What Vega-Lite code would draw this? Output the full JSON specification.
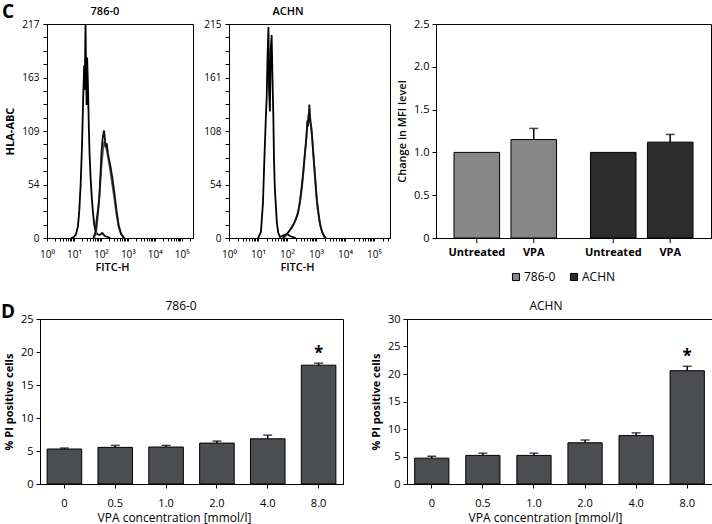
{
  "$schema": "https://vega.github.io/schema/vega-lite/v6.json",
  "padding": {"left": 0, "top": 3, "right": 0, "bottom": 0},
  "config": {
    "font": "Open Sans",
    "view": {"stroke": "black", "strokeWidth": 1},
    "axis": {"domainColor": "black", "tickColor": "black", "labelColor": "black", "titleColor": "black", "grid": false, "labelFlush": false, "labelOverlap": false, "domainWidth": 1, "tickWidth": 1, "labelFontSize": 11, "titleFontSize": 11, "titleFontWeight": "bold"},
    "title": {"color": "black"},
    "legend": {"labelColor": "black"}
  },
  "resolve": {"scale": {"color": "independent"}, "legend": {"color": "independent"}},
  "datasets": {
    "hist": [
      {"cell": "786-0", "series": "Isotype", "fitc": 7.9, "count": 0},
      {"cell": "786-0", "series": "Isotype", "fitc": 10, "count": 1},
      {"cell": "786-0", "series": "Isotype", "fitc": 12, "count": 4},
      {"cell": "786-0", "series": "Isotype", "fitc": 14.1, "count": 12},
      {"cell": "786-0", "series": "Isotype", "fitc": 15.8, "count": 28},
      {"cell": "786-0", "series": "Isotype", "fitc": 17.8, "count": 55},
      {"cell": "786-0", "series": "Isotype", "fitc": 20, "count": 95},
      {"cell": "786-0", "series": "Isotype", "fitc": 21.9, "count": 140},
      {"cell": "786-0", "series": "Isotype", "fitc": 24, "count": 175},
      {"cell": "786-0", "series": "Isotype", "fitc": 25.1, "count": 150},
      {"cell": "786-0", "series": "Isotype", "fitc": 26.9, "count": 217},
      {"cell": "786-0", "series": "Isotype", "fitc": 28.2, "count": 170},
      {"cell": "786-0", "series": "Isotype", "fitc": 29.5, "count": 135},
      {"cell": "786-0", "series": "Isotype", "fitc": 30.9, "count": 183},
      {"cell": "786-0", "series": "Isotype", "fitc": 33.1, "count": 155},
      {"cell": "786-0", "series": "Isotype", "fitc": 35.5, "count": 115},
      {"cell": "786-0", "series": "Isotype", "fitc": 38, "count": 85},
      {"cell": "786-0", "series": "Isotype", "fitc": 41.7, "count": 60},
      {"cell": "786-0", "series": "Isotype", "fitc": 45.7, "count": 42},
      {"cell": "786-0", "series": "Isotype", "fitc": 50.1, "count": 28},
      {"cell": "786-0", "series": "Isotype", "fitc": 56.2, "count": 14},
      {"cell": "786-0", "series": "Isotype", "fitc": 63.1, "count": 7},
      {"cell": "786-0", "series": "Isotype", "fitc": 72.4, "count": 4},
      {"cell": "786-0", "series": "Isotype", "fitc": 89.1, "count": 3},
      {"cell": "786-0", "series": "Isotype", "fitc": 112, "count": 5},
      {"cell": "786-0", "series": "Isotype", "fitc": 141, "count": 2},
      {"cell": "786-0", "series": "Isotype", "fitc": 178, "count": 1},
      {"cell": "786-0", "series": "Isotype", "fitc": 224, "count": 0},
      {"cell": "786-0", "series": "Untreated", "fitc": 55, "count": 0},
      {"cell": "786-0", "series": "Untreated", "fitc": 66.1, "count": 5},
      {"cell": "786-0", "series": "Untreated", "fitc": 75.9, "count": 20},
      {"cell": "786-0", "series": "Untreated", "fitc": 89.1, "count": 45},
      {"cell": "786-0", "series": "Untreated", "fitc": 104.7, "count": 72},
      {"cell": "786-0", "series": "Untreated", "fitc": 120.2, "count": 90},
      {"cell": "786-0", "series": "Untreated", "fitc": 134.9, "count": 98},
      {"cell": "786-0", "series": "Untreated", "fitc": 147.9, "count": 94},
      {"cell": "786-0", "series": "Untreated", "fitc": 162.2, "count": 90},
      {"cell": "786-0", "series": "Untreated", "fitc": 177.8, "count": 84},
      {"cell": "786-0", "series": "Untreated", "fitc": 199.5, "count": 77},
      {"cell": "786-0", "series": "Untreated", "fitc": 223.9, "count": 68},
      {"cell": "786-0", "series": "Untreated", "fitc": 263, "count": 55},
      {"cell": "786-0", "series": "Untreated", "fitc": 316.2, "count": 40},
      {"cell": "786-0", "series": "Untreated", "fitc": 380.2, "count": 24},
      {"cell": "786-0", "series": "Untreated", "fitc": 457.1, "count": 11},
      {"cell": "786-0", "series": "Untreated", "fitc": 562.3, "count": 4},
      {"cell": "786-0", "series": "Untreated", "fitc": 758.6, "count": 0},
      {"cell": "786-0", "series": "VPA", "fitc": 52.5, "count": 0},
      {"cell": "786-0", "series": "VPA", "fitc": 63.1, "count": 6},
      {"cell": "786-0", "series": "VPA", "fitc": 69.2, "count": 18},
      {"cell": "786-0", "series": "VPA", "fitc": 79.4, "count": 30},
      {"cell": "786-0", "series": "VPA", "fitc": 87.1, "count": 40},
      {"cell": "786-0", "series": "VPA", "fitc": 95.5, "count": 62},
      {"cell": "786-0", "series": "VPA", "fitc": 104.7, "count": 86},
      {"cell": "786-0", "series": "VPA", "fitc": 114.8, "count": 100},
      {"cell": "786-0", "series": "VPA", "fitc": 125.9, "count": 107},
      {"cell": "786-0", "series": "VPA", "fitc": 131.8, "count": 109},
      {"cell": "786-0", "series": "VPA", "fitc": 141.3, "count": 100},
      {"cell": "786-0", "series": "VPA", "fitc": 151.4, "count": 92},
      {"cell": "786-0", "series": "VPA", "fitc": 166, "count": 96},
      {"cell": "786-0", "series": "VPA", "fitc": 182, "count": 86},
      {"cell": "786-0", "series": "VPA", "fitc": 199.5, "count": 80},
      {"cell": "786-0", "series": "VPA", "fitc": 229.1, "count": 72},
      {"cell": "786-0", "series": "VPA", "fitc": 263, "count": 62},
      {"cell": "786-0", "series": "VPA", "fitc": 316.2, "count": 46},
      {"cell": "786-0", "series": "VPA", "fitc": 380.2, "count": 28},
      {"cell": "786-0", "series": "VPA", "fitc": 457.1, "count": 13},
      {"cell": "786-0", "series": "VPA", "fitc": 562.3, "count": 4},
      {"cell": "786-0", "series": "VPA", "fitc": 707.9, "count": 0},
      {"cell": "ACHN", "series": "Isotype", "fitc": 10, "count": 0},
      {"cell": "ACHN", "series": "Isotype", "fitc": 12.6, "count": 6},
      {"cell": "ACHN", "series": "Isotype", "fitc": 14.8, "count": 35},
      {"cell": "ACHN", "series": "Isotype", "fitc": 16.6, "count": 80},
      {"cell": "ACHN", "series": "Isotype", "fitc": 18.6, "count": 120},
      {"cell": "ACHN", "series": "Isotype", "fitc": 20, "count": 143},
      {"cell": "ACHN", "series": "Isotype", "fitc": 21.4, "count": 185},
      {"cell": "ACHN", "series": "Isotype", "fitc": 22.9, "count": 212},
      {"cell": "ACHN", "series": "Isotype", "fitc": 24, "count": 150},
      {"cell": "ACHN", "series": "Isotype", "fitc": 25.7, "count": 127},
      {"cell": "ACHN", "series": "Isotype", "fitc": 27.5, "count": 190},
      {"cell": "ACHN", "series": "Isotype", "fitc": 29.5, "count": 204},
      {"cell": "ACHN", "series": "Isotype", "fitc": 31.6, "count": 160},
      {"cell": "ACHN", "series": "Isotype", "fitc": 33.9, "count": 120},
      {"cell": "ACHN", "series": "Isotype", "fitc": 35.5, "count": 80},
      {"cell": "ACHN", "series": "Isotype", "fitc": 38, "count": 50},
      {"cell": "ACHN", "series": "Isotype", "fitc": 40.7, "count": 35},
      {"cell": "ACHN", "series": "Isotype", "fitc": 44.7, "count": 15},
      {"cell": "ACHN", "series": "Isotype", "fitc": 50.1, "count": 5},
      {"cell": "ACHN", "series": "Isotype", "fitc": 57.5, "count": 1},
      {"cell": "ACHN", "series": "Isotype", "fitc": 79.4, "count": 3},
      {"cell": "ACHN", "series": "Isotype", "fitc": 100, "count": 4},
      {"cell": "ACHN", "series": "Isotype", "fitc": 125.9, "count": 2},
      {"cell": "ACHN", "series": "Isotype", "fitc": 158.5, "count": 1},
      {"cell": "ACHN", "series": "Isotype", "fitc": 199.5, "count": 0},
      {"cell": "ACHN", "series": "Untreated", "fitc": 79.4, "count": 0},
      {"cell": "ACHN", "series": "Untreated", "fitc": 100, "count": 4},
      {"cell": "ACHN", "series": "Untreated", "fitc": 125.9, "count": 8},
      {"cell": "ACHN", "series": "Untreated", "fitc": 158.5, "count": 13},
      {"cell": "ACHN", "series": "Untreated", "fitc": 199.5, "count": 19},
      {"cell": "ACHN", "series": "Untreated", "fitc": 239.9, "count": 26},
      {"cell": "ACHN", "series": "Untreated", "fitc": 281.8, "count": 36},
      {"cell": "ACHN", "series": "Untreated", "fitc": 331.1, "count": 52},
      {"cell": "ACHN", "series": "Untreated", "fitc": 380.2, "count": 70},
      {"cell": "ACHN", "series": "Untreated", "fitc": 436.5, "count": 92},
      {"cell": "ACHN", "series": "Untreated", "fitc": 501.2, "count": 112},
      {"cell": "ACHN", "series": "Untreated", "fitc": 549.5, "count": 124},
      {"cell": "ACHN", "series": "Untreated", "fitc": 602.6, "count": 118},
      {"cell": "ACHN", "series": "Untreated", "fitc": 660.7, "count": 114},
      {"cell": "ACHN", "series": "Untreated", "fitc": 741.3, "count": 98},
      {"cell": "ACHN", "series": "Untreated", "fitc": 851.1, "count": 74},
      {"cell": "ACHN", "series": "Untreated", "fitc": 977.2, "count": 50},
      {"cell": "ACHN", "series": "Untreated", "fitc": 1122, "count": 30},
      {"cell": "ACHN", "series": "Untreated", "fitc": 1318, "count": 16},
      {"cell": "ACHN", "series": "Untreated", "fitc": 1585, "count": 7},
      {"cell": "ACHN", "series": "Untreated", "fitc": 1905, "count": 2},
      {"cell": "ACHN", "series": "Untreated", "fitc": 2239, "count": 0},
      {"cell": "ACHN", "series": "VPA", "fitc": 70.8, "count": 0},
      {"cell": "ACHN", "series": "VPA", "fitc": 89.1, "count": 3},
      {"cell": "ACHN", "series": "VPA", "fitc": 112.2, "count": 6},
      {"cell": "ACHN", "series": "VPA", "fitc": 144.5, "count": 10},
      {"cell": "ACHN", "series": "VPA", "fitc": 177.8, "count": 15},
      {"cell": "ACHN", "series": "VPA", "fitc": 208.9, "count": 20},
      {"cell": "ACHN", "series": "VPA", "fitc": 239.9, "count": 25},
      {"cell": "ACHN", "series": "VPA", "fitc": 281.8, "count": 38},
      {"cell": "ACHN", "series": "VPA", "fitc": 316.2, "count": 50},
      {"cell": "ACHN", "series": "VPA", "fitc": 346.7, "count": 61},
      {"cell": "ACHN", "series": "VPA", "fitc": 398.1, "count": 80},
      {"cell": "ACHN", "series": "VPA", "fitc": 457.1, "count": 98},
      {"cell": "ACHN", "series": "VPA", "fitc": 501.2, "count": 118},
      {"cell": "ACHN", "series": "VPA", "fitc": 537, "count": 112},
      {"cell": "ACHN", "series": "VPA", "fitc": 588.8, "count": 134},
      {"cell": "ACHN", "series": "VPA", "fitc": 631, "count": 120},
      {"cell": "ACHN", "series": "VPA", "fitc": 707.9, "count": 108},
      {"cell": "ACHN", "series": "VPA", "fitc": 794.3, "count": 88},
      {"cell": "ACHN", "series": "VPA", "fitc": 933.3, "count": 61},
      {"cell": "ACHN", "series": "VPA", "fitc": 1072, "count": 38},
      {"cell": "ACHN", "series": "VPA", "fitc": 1259, "count": 22},
      {"cell": "ACHN", "series": "VPA", "fitc": 1413, "count": 12},
      {"cell": "ACHN", "series": "VPA", "fitc": 1660, "count": 5},
      {"cell": "ACHN", "series": "VPA", "fitc": 2042, "count": 0}
    ],
    "mfi": [
      {"cell": "786-0", "treatment": "Untreated", "mfi": 1.0, "upper": null},
      {"cell": "786-0", "treatment": "VPA", "mfi": 1.15, "upper": 1.28},
      {"cell": "ACHN", "treatment": "Untreated", "mfi": 1.0, "upper": null},
      {"cell": "ACHN", "treatment": "VPA", "mfi": 1.12, "upper": 1.21}
    ],
    "pi": [
      {"cell": "786-0", "conc": "0", "pct": 5.3, "upper": 5.45, "sig": null},
      {"cell": "786-0", "conc": "0.5", "pct": 5.55, "upper": 5.85, "sig": null},
      {"cell": "786-0", "conc": "1.0", "pct": 5.6, "upper": 5.85, "sig": null},
      {"cell": "786-0", "conc": "2.0", "pct": 6.2, "upper": 6.5, "sig": null},
      {"cell": "786-0", "conc": "4.0", "pct": 6.85, "upper": 7.4, "sig": null},
      {"cell": "786-0", "conc": "8.0", "pct": 18.0, "upper": 18.3, "sig": "*"},
      {"cell": "ACHN", "conc": "0", "pct": 4.7, "upper": 5.05, "sig": null},
      {"cell": "ACHN", "conc": "0.5", "pct": 5.2, "upper": 5.6, "sig": null},
      {"cell": "ACHN", "conc": "1.0", "pct": 5.2, "upper": 5.6, "sig": null},
      {"cell": "ACHN", "conc": "2.0", "pct": 7.5, "upper": 8.0, "sig": null},
      {"cell": "ACHN", "conc": "4.0", "pct": 8.8, "upper": 9.3, "sig": null},
      {"cell": "ACHN", "conc": "8.0", "pct": 20.6, "upper": 21.4, "sig": "*"}
    ]
  },
  "spacing": 15,
  "vconcat": [
    {
      "spacing": 0,
      "bounds": "flush",
      "resolve": {"scale": {"color": "independent"}, "legend": {"color": "independent"}},
      "hconcat": [
        {
          "width": 47, "height": 214, "view": {"stroke": null},
          "title": {"text": "C", "anchor": "start", "frame": "group", "fontSize": 19, "fontWeight": "bold", "baseline": "alphabetic", "offset": 8, "dy": 21, "dx": 2},
          "data": {"values": []}, "mark": "point"
        },
        {
          "width": 146, "height": 214,
          "layer": [
            {
              "data": {"name": "hist"},
              "transform": [{"filter": "datum.cell == '786-0'"}],
              "mark": {"type": "line", "strokeWidth": 1.8},
              "encoding": {
                "x": {"field": "fitc", "type": "quantitative", "scale": {"type": "log", "domain": [1, 262144], "nice": false},
                  "axis": {"title": "FITC-H", "titleFontWeight": 600, "titleX": 65, "titlePadding": 2, "tickSize": 3, "labelPadding": 8, "labelFontSize": 10,
                    "values": [1,2,3,4,5,6,7,8,9,10,20,30,40,50,60,70,80,90,100,200,300,400,500,600,700,800,900,1000,2000,3000,4000,5000,6000,7000,8000,9000,10000,20000,30000,40000,50000,60000,70000,80000,90000,100000,200000],
                    "labelExpr": "datum.value == 1 ? '10⁰' : datum.value == 10 ? '10¹' : datum.value == 100 ? '10²' : datum.value == 1000 ? '10³' : datum.value == 10000 ? '10⁴' : datum.value == 100000 ? '10⁵' : ''"}},
                "y": {"field": "count", "type": "quantitative", "scale": {"domain": [0, 217], "nice": false},
                  "axis": {"title": "HLA-ABC", "titlePadding": 6, "tickSize": 4, "labelPadding": 4, "labelFontSize": 10,
                    "values": [0,13.5625,27.125,40.6875,54.25,67.8125,81.375,94.9375,108.5,122.0625,135.625,149.1875,162.75,176.3125,189.875,203.4375,217],
                    "labelExpr": "abs(datum.value/54.25 - round(datum.value/54.25)) < 0.01 ? '' + round(datum.value) : ''"}},
                "color": {"field": "series", "type": "nominal", "scale": {"domain": ["Untreated", "VPA", "Isotype"], "range": ["#555555", "#111111", "#000000"]}, "legend": null}
              }
            },
            {
              "data": {"values": [{"label": "786-0"}]},
              "mark": {"type": "text", "fontSize": 11, "fontWeight": 600, "baseline": "alphabetic", "dy": -9, "color": "black"},
              "encoding": {
                "x": {"datum": 141, "type": "quantitative", "scale": {"type": "log", "domain": [1, 262144], "nice": false},
                  "axis": {"title": "FITC-H", "titleFontWeight": 600, "titleX": 65, "titlePadding": 2, "tickSize": 3, "labelPadding": 8, "labelFontSize": 10,
                    "values": [1,2,3,4,5,6,7,8,9,10,20,30,40,50,60,70,80,90,100,200,300,400,500,600,700,800,900,1000,2000,3000,4000,5000,6000,7000,8000,9000,10000,20000,30000,40000,50000,60000,70000,80000,90000,100000,200000],
                    "labelExpr": "datum.value == 1 ? '10⁰' : datum.value == 10 ? '10¹' : datum.value == 100 ? '10²' : datum.value == 1000 ? '10³' : datum.value == 10000 ? '10⁴' : datum.value == 100000 ? '10⁵' : ''"}},
                "y": {"datum": 217, "type": "quantitative", "scale": {"domain": [0, 217], "nice": false},
                  "axis": {"title": "HLA-ABC", "titlePadding": 6, "tickSize": 4, "labelPadding": 4, "labelFontSize": 10,
                    "values": [0,13.5625,27.125,40.6875,54.25,67.8125,81.375,94.9375,108.5,122.0625,135.625,149.1875,162.75,176.3125,189.875,203.4375,217],
                    "labelExpr": "abs(datum.value/54.25 - round(datum.value/54.25)) < 0.01 ? '' + round(datum.value) : ''"}},
                "text": {"field": "label"}
              }
            }
          ]
        },
        {"width": 36, "height": 214, "view": {"stroke": null}, "data": {"values": []}, "mark": "point"},
        {
          "width": 161, "height": 214,
          "layer": [
            {
              "data": {"name": "hist"},
              "transform": [{"filter": "datum.cell == 'ACHN'"}],
              "mark": {"type": "line", "strokeWidth": 1.8},
              "encoding": {
                "x": {"field": "fitc", "type": "quantitative", "scale": {"type": "log", "domain": [1, 354813], "nice": false},
                  "axis": {"title": "FITC-H", "titleFontWeight": 600, "titleX": 68, "titlePadding": 2, "tickSize": 3, "labelPadding": 8, "labelFontSize": 10,
                    "values": [1,2,3,4,5,6,7,8,9,10,20,30,40,50,60,70,80,90,100,200,300,400,500,600,700,800,900,1000,2000,3000,4000,5000,6000,7000,8000,9000,10000,20000,30000,40000,50000,60000,70000,80000,90000,100000,200000,300000],
                    "labelExpr": "datum.value == 1 ? '10⁰' : datum.value == 10 ? '10¹' : datum.value == 100 ? '10²' : datum.value == 1000 ? '10³' : datum.value == 10000 ? '10⁴' : datum.value == 100000 ? '10⁵' : ''"}},
                "y": {"field": "count", "type": "quantitative", "scale": {"domain": [0, 215], "nice": false},
                  "axis": {"title": null, "tickSize": 4, "labelPadding": 4, "labelFontSize": 10,
                    "values": [0,13.4375,26.875,40.3125,53.75,67.1875,80.625,94.0625,107.5,120.9375,134.375,147.8125,161.25,174.6875,188.125,201.5625,215],
                    "labelExpr": "abs(datum.value/53.75 - round(datum.value/53.75)) < 0.01 ? '' + round(datum.value) : ''"}},
                "color": {"field": "series", "type": "nominal", "scale": {"domain": ["Untreated", "VPA", "Isotype"], "range": ["#555555", "#111111", "#000000"]}, "legend": null}
              }
            },
            {
              "data": {"values": [{"label": "ACHN"}]},
              "mark": {"type": "text", "fontSize": 11, "fontWeight": 600, "baseline": "alphabetic", "dy": -9, "color": "black"},
              "encoding": {
                "x": {"datum": 108, "type": "quantitative", "scale": {"type": "log", "domain": [1, 354813], "nice": false},
                  "axis": {"title": "FITC-H", "titleFontWeight": 600, "titleX": 68, "titlePadding": 2, "tickSize": 3, "labelPadding": 8, "labelFontSize": 10,
                    "values": [1,2,3,4,5,6,7,8,9,10,20,30,40,50,60,70,80,90,100,200,300,400,500,600,700,800,900,1000,2000,3000,4000,5000,6000,7000,8000,9000,10000,20000,30000,40000,50000,60000,70000,80000,90000,100000,200000,300000],
                    "labelExpr": "datum.value == 1 ? '10⁰' : datum.value == 10 ? '10¹' : datum.value == 100 ? '10²' : datum.value == 1000 ? '10³' : datum.value == 10000 ? '10⁴' : datum.value == 100000 ? '10⁵' : ''"}},
                "y": {"datum": 215, "type": "quantitative", "scale": {"domain": [0, 215], "nice": false},
                  "axis": {"title": null, "tickSize": 4, "labelPadding": 4, "labelFontSize": 10,
                    "values": [0,13.4375,26.875,40.3125,53.75,67.1875,80.625,94.0625,107.5,120.9375,134.375,147.8125,161.25,174.6875,188.125,201.5625,215],
                    "labelExpr": "abs(datum.value/53.75 - round(datum.value/53.75)) < 0.01 ? '' + round(datum.value) : ''"}},
                "text": {"field": "label"}
              }
            }
          ]
        },
        {"width": 46, "height": 214, "view": {"stroke": null}, "data": {"values": []}, "mark": "point"},
        {
          "width": 275, "height": 214,
          "data": {"name": "mfi"},
          "encoding": {
            "x": {"field": "cell", "type": "nominal", "scale": {"paddingInner": 0.1, "paddingOuter": 0.0577}, "axis": {"labels": false, "ticks": false, "title": null}},
            "xOffset": {"field": "treatment", "type": "nominal", "scale": {"paddingInner": 0.2, "paddingOuter": 0.178}}
          },
          "layer": [
            {
              "mark": {"type": "bar", "stroke": "black", "strokeWidth": 1},
              "encoding": {
                "y": {"field": "mfi", "type": "quantitative", "scale": {"domain": [0, 2.5], "nice": false},
                  "axis": {"title": "Change in MFI level", "titleFontWeight": 600, "titlePadding": 6, "tickSize": 4, "labelPadding": 3, "labelFontSize": 11,
                    "values": [0,0.25,0.5,0.75,1,1.25,1.5,1.75,2,2.25,2.5],
                    "labelExpr": "abs(datum.value*2 - round(datum.value*2)) < 0.01 ? (datum.value == 0 ? '0' : format(datum.value, '.1f')) : ''"}},
                "color": {"field": "cell", "type": "nominal", "scale": {"domain": ["786-0", "ACHN"], "range": ["#878787", "#2b2b2b"]},
                  "legend": {"orient": "none", "legendX": 74, "legendY": 247, "direction": "horizontal", "title": null, "symbolType": "square", "symbolSize": 50, "symbolStrokeColor": "black", "symbolStrokeWidth": 1, "labelFontSize": 12, "labelOffset": 2, "columnPadding": 12}}
              }
            },
            {
              "transform": [{"filter": "datum.upper != null"}],
              "mark": {"type": "rule", "color": "black", "strokeWidth": 1.5},
              "encoding": {"y": {"field": "mfi", "type": "quantitative", "scale": {"domain": [0, 2.5], "nice": false},
                  "axis": {"title": "Change in MFI level", "titleFontWeight": 600, "titlePadding": 6, "tickSize": 4, "labelPadding": 3, "labelFontSize": 11,
                    "values": [0,0.25,0.5,0.75,1,1.25,1.5,1.75,2,2.25,2.5],
                    "labelExpr": "abs(datum.value*2 - round(datum.value*2)) < 0.01 ? (datum.value == 0 ? '0' : format(datum.value, '.1f')) : ''"}}, "y2": {"field": "upper"}}
            },
            {
              "transform": [{"filter": "datum.upper != null"}],
              "mark": {"type": "tick", "color": "black", "size": 9, "thickness": 1.5},
              "encoding": {"y": {"field": "upper", "type": "quantitative", "scale": {"domain": [0, 2.5], "nice": false},
                  "axis": {"title": "Change in MFI level", "titleFontWeight": 600, "titlePadding": 6, "tickSize": 4, "labelPadding": 3, "labelFontSize": 11,
                    "values": [0,0.25,0.5,0.75,1,1.25,1.5,1.75,2,2.25,2.5],
                    "labelExpr": "abs(datum.value*2 - round(datum.value*2)) < 0.01 ? (datum.value == 0 ? '0' : format(datum.value, '.1f')) : ''"}}}
            },
            {
              "mark": {"type": "text", "dy": 15, "fontSize": 11, "fontWeight": "bold", "baseline": "middle", "color": "black"},
              "encoding": {"y": {"datum": 0}, "text": {"field": "treatment"}}
            },
            {
              "mark": {"type": "rule", "color": "black"},
              "encoding": {"y": {"datum": 0}, "y2": {"datum": -0.06}}
            }
          ]
        }
      ]
    },
    {
      "spacing": 0,
      "bounds": "flush",
      "hconcat": [
        {
          "width": 40, "height": 165, "view": {"stroke": null},
          "title": {"text": "D", "anchor": "start", "frame": "group", "fontSize": 19, "fontWeight": "bold", "baseline": "alphabetic", "offset": 4, "dy": 22, "dx": 1},
          "data": {"values": []}, "mark": "point"
        },
        {
          "width": 303, "height": 165,
          "data": {"name": "pi"},
          "transform": [{"filter": "datum.cell == '786-0'"}],
          "encoding": {
            "x": {"field": "conc", "type": "nominal", "sort": ["0", "0.5", "1.0", "2.0", "4.0", "8.0"], "scale": {"paddingInner": 0.32, "paddingOuter": 0.14},
              "axis": {"title": "VPA concentration [mmol/l]", "labelAngle": 0, "tickSize": 4, "labelPadding": 9, "titleFontWeight": "normal", "titleFontSize": 12, "titleX": 134, "titlePadding": 4}}
          },
          "layer": [
            {
              "mark": {"type": "bar", "color": "#4b4d50", "stroke": "black", "strokeWidth": 1},
              "encoding": {"y": {"field": "pct", "type": "quantitative", "scale": {"domain": [0, 25], "nice": false},
                "axis": {"title": "% PI positive cells", "values": [0, 5, 10, 15, 20, 25], "tickSize": 4, "labelPadding": 3, "titlePadding": 6}}}
            },
            {
              "mark": {"type": "rule", "color": "black", "strokeWidth": 1.5},
              "encoding": {"y": {"field": "pct", "type": "quantitative", "scale": {"domain": [0, 25], "nice": false},
                "axis": {"title": "% PI positive cells", "values": [0, 5, 10, 15, 20, 25], "tickSize": 4, "labelPadding": 3, "titlePadding": 6}}, "y2": {"field": "upper"}}
            },
            {
              "mark": {"type": "tick", "color": "black", "size": 9, "thickness": 1.5},
              "encoding": {"y": {"field": "upper", "type": "quantitative", "scale": {"domain": [0, 25], "nice": false},
                "axis": {"title": "% PI positive cells", "values": [0, 5, 10, 15, 20, 25], "tickSize": 4, "labelPadding": 3, "titlePadding": 6}}}
            },
            {
              "transform": [{"filter": "datum.sig != null"}],
              "mark": {"type": "text", "fontSize": 17, "fontWeight": "bold", "baseline": "alphabetic", "dy": -4.5, "color": "black"},
              "encoding": {"y": {"field": "upper", "type": "quantitative", "scale": {"domain": [0, 25], "nice": false},
                "axis": {"title": "% PI positive cells", "values": [0, 5, 10, 15, 20, 25], "tickSize": 4, "labelPadding": 3, "titlePadding": 6}}, "text": {"field": "sig"}}
            },
            {
              "transform": [{"filter": "datum.conc == '1.0'"}],
              "mark": {"type": "text", "fontSize": 12, "baseline": "alphabetic", "dy": -9, "dx": 15, "color": "black"},
              "encoding": {"y": {"datum": 25, "type": "quantitative", "scale": {"domain": [0, 25], "nice": false},
                "axis": {"title": "% PI positive cells", "values": [0, 5, 10, 15, 20, 25], "tickSize": 4, "labelPadding": 3, "titlePadding": 6}}, "text": {"field": "cell"}}
            }
          ]
        },
        {"width": 64, "height": 165, "view": {"stroke": null}, "data": {"values": []}, "mark": "point"},
        {
          "width": 305, "height": 165,
          "data": {"name": "pi"},
          "transform": [{"filter": "datum.cell == 'ACHN'"}],
          "encoding": {
            "x": {"field": "conc", "type": "nominal", "sort": ["0", "0.5", "1.0", "2.0", "4.0", "8.0"], "scale": {"paddingInner": 0.33, "paddingOuter": 0.15},
              "axis": {"title": "VPA concentration [mmol/l]", "labelAngle": 0, "tickSize": 4, "labelPadding": 9, "titleFontWeight": "normal", "titleFontSize": 12, "titleX": 138, "titlePadding": 4}}
          },
          "layer": [
            {
              "mark": {"type": "bar", "color": "#4b4d50", "stroke": "black", "strokeWidth": 1},
              "encoding": {"y": {"field": "pct", "type": "quantitative", "scale": {"domain": [0, 30], "nice": false},
                "axis": {"title": "% PI positive cells", "values": [0, 5, 10, 15, 20, 25, 30], "tickSize": 4, "labelPadding": 3, "titlePadding": 6}}}
            },
            {
              "mark": {"type": "rule", "color": "black", "strokeWidth": 1.5},
              "encoding": {"y": {"field": "pct", "type": "quantitative", "scale": {"domain": [0, 30], "nice": false},
                "axis": {"title": "% PI positive cells", "values": [0, 5, 10, 15, 20, 25, 30], "tickSize": 4, "labelPadding": 3, "titlePadding": 6}}, "y2": {"field": "upper"}}
            },
            {
              "mark": {"type": "tick", "color": "black", "size": 9, "thickness": 1.5},
              "encoding": {"y": {"field": "upper", "type": "quantitative", "scale": {"domain": [0, 30], "nice": false},
                "axis": {"title": "% PI positive cells", "values": [0, 5, 10, 15, 20, 25, 30], "tickSize": 4, "labelPadding": 3, "titlePadding": 6}}}
            },
            {
              "transform": [{"filter": "datum.sig != null"}],
              "mark": {"type": "text", "fontSize": 17, "fontWeight": "bold", "baseline": "alphabetic", "dy": -4.5, "color": "black"},
              "encoding": {"y": {"field": "upper", "type": "quantitative", "scale": {"domain": [0, 30], "nice": false},
                "axis": {"title": "% PI positive cells", "values": [0, 5, 10, 15, 20, 25, 30], "tickSize": 4, "labelPadding": 3, "titlePadding": 6}}, "text": {"field": "sig"}}
            },
            {
              "transform": [{"filter": "datum.conc == '1.0'"}],
              "mark": {"type": "text", "fontSize": 12, "baseline": "alphabetic", "dy": -9, "dx": 12, "color": "black"},
              "encoding": {"y": {"datum": 30, "type": "quantitative", "scale": {"domain": [0, 30], "nice": false},
                "axis": {"title": "% PI positive cells", "values": [0, 5, 10, 15, 20, 25, 30], "tickSize": 4, "labelPadding": 3, "titlePadding": 6}}, "text": {"field": "cell"}}
            }
          ]
        }
      ]
    }
  ]
}
